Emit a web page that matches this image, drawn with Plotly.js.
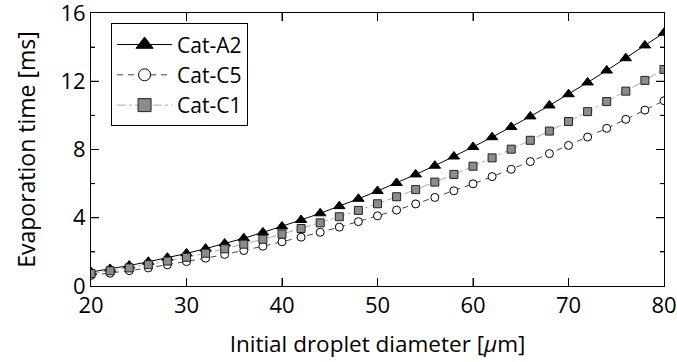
<!DOCTYPE html>
<html>
<head>
<meta charset="utf-8">
<script src="https://cdn.plot.ly/plotly-3.0.1.min.js"></script>
<style>html,body{margin:0;padding:0;background:#fff;}#chart{width:677px;height:362px;}</style>
</head>
<body>
<div id="chart"></div>
<script>
const diameters = [20,22,24,26,28,30,32,34,36,38,40,42,44,46,48,50,52,54,56,58,60,62,64,66,68,70,72,74,76,78,80];
const catA2 = [0.82,1.00,1.20,1.42,1.66,1.91,2.19,2.49,2.80,3.14,3.49,3.87,4.26,4.68,5.11,5.57,6.04,6.54,7.05,7.59,8.15,8.72,9.32,9.94,10.58,11.24,11.93,12.63,13.35,14.10,14.84];
const catC5 = [0.62,0.75,0.90,1.06,1.24,1.43,1.63,1.85,2.08,2.33,2.59,2.86,3.15,3.45,3.77,4.11,4.45,4.81,5.19,5.58,5.99,6.41,6.84,7.29,7.76,8.24,8.73,9.24,9.77,10.31,10.86];
const catC1 = [0.73,0.89,1.06,1.25,1.46,1.68,1.92,2.18,2.45,2.74,3.04,3.37,3.70,4.06,4.43,4.82,5.23,5.65,6.09,6.54,7.02,7.51,8.02,8.54,9.08,9.64,10.22,10.81,11.42,12.05,12.69];
const seriesNames = ["Cat-A2","Cat-C5","Cat-C1"];
const xTickVals = [30, 40, 50, 60, 70];
const yMajorTickVals = [4, 8, 12];
const yMinorTickVals = [2, 6, 10, 14];

const FONT = "Open Sans, sans-serif";
const W = 677, H = 362, M = {l: 91, r: 13, t: 13, b: 76};
const X_RANGE = [20, 80], Y_RANGE = [0, 16];

const styles = [
  {line: {color: "#000", width: 1}, symbol: "triangle-up", fill: "#000", edge: "#000", size: 10, legSize: 15},
  {line: {color: "#444", width: 1, dash: "6px,5px"}, symbol: "circle", fill: "#fff", edge: "#000", size: 8, legSize: 12},
  {line: {color: "#aaa", width: 1, dash: "dashdot"}, symbol: "square", fill: "#8c8c8c", edge: "#222", size: 8, legSize: 13}
];
const seriesData = [catA2, catC5, catC1];

// inward tick marks on all four sides (lengths given in px, converted to axis units)
const xPerPx = (X_RANGE[1] - X_RANGE[0]) / (W - M.l - M.r);
const yPerPx = (Y_RANGE[1] - Y_RANGE[0]) / (H - M.t - M.b);
const tx = [], ty = [];
xTickVals.forEach(v => {
  tx.push(v, v, null, v, v, null);
  ty.push(Y_RANGE[0], Y_RANGE[0] + 8 * yPerPx, null, Y_RANGE[1], Y_RANGE[1] - 8 * yPerPx, null);
});
[[yMajorTickVals, 8], [yMinorTickVals, 4]].forEach(([vals, len]) => {
  vals.forEach(v => {
    tx.push(X_RANGE[0], X_RANGE[0] + len * xPerPx, null, X_RANGE[1], X_RANGE[1] - len * xPerPx, null);
    ty.push(v, v, null, v, v, null);
  });
});

const traces = [{x: tx, y: ty, mode: "lines", showlegend: false, hoverinfo: "skip",
                 line: {color: "#000", width: 1}, connectgaps: false}];
seriesData.forEach((ys, i) => {
  const s = styles[i];
  traces.push({x: diameters, y: ys, name: seriesNames[i], mode: "lines+markers", showlegend: false,
    line: s.line, marker: {symbol: s.symbol, size: s.size, color: s.fill, line: {color: s.edge, width: 1}}});
});
seriesData.forEach((ys, i) => {
  const s = styles[i];
  traces.push({x: [null], y: [null], name: seriesNames[i], mode: "lines+markers", showlegend: true,
    line: s.line, marker: {symbol: s.symbol, size: s.legSize, color: s.fill, line: {color: s.edge, width: 1}}});
});

const axisCommon = {ticks: "inside", ticklen: 8, tickwidth: 1, tickcolor: "#000",
  showline: true, linecolor: "#000", linewidth: 1, mirror: "ticks", ticklabeloverflow: "allow",
  showgrid: false, zeroline: false, tickfont: {family: FONT, size: 22, color: "#000"}};

const layout = {
  width: W, height: H,
  margin: M,
  paper_bgcolor: "#fff", plot_bgcolor: "#fff",
  font: {family: FONT, color: "#000", size: 22},
  showlegend: true,
  legend: {x: 0.035, y: 0.962, xanchor: "left", yanchor: "top",
           bordercolor: "#000", borderwidth: 1, bgcolor: "#fff", itemwidth: 55,
           font: {family: FONT, size: 21, color: "#000"}, tracegroupgap: 0},
  xaxis: Object.assign({}, axisCommon, {range: X_RANGE, dtick: 10, tick0: 20,
          title: {text: "Initial droplet diameter [<i>μ</i>m]", font: {family: FONT, size: 22.5}, standoff: 17}}),
  yaxis: Object.assign({}, axisCommon, {range: Y_RANGE, dtick: 4, tick0: 0,
          minor: {dtick: 2, ticks: "inside", ticklen: 4, tickwidth: 1, tickcolor: "#000", showgrid: false},
          title: {text: "Evaporation time [ms]", font: {family: FONT, size: 23}, standoff: 18}})
};

Plotly.newPlot("chart", traces, layout, {displayModeBar: false, staticPlot: true});
</script>
</body>
</html>
